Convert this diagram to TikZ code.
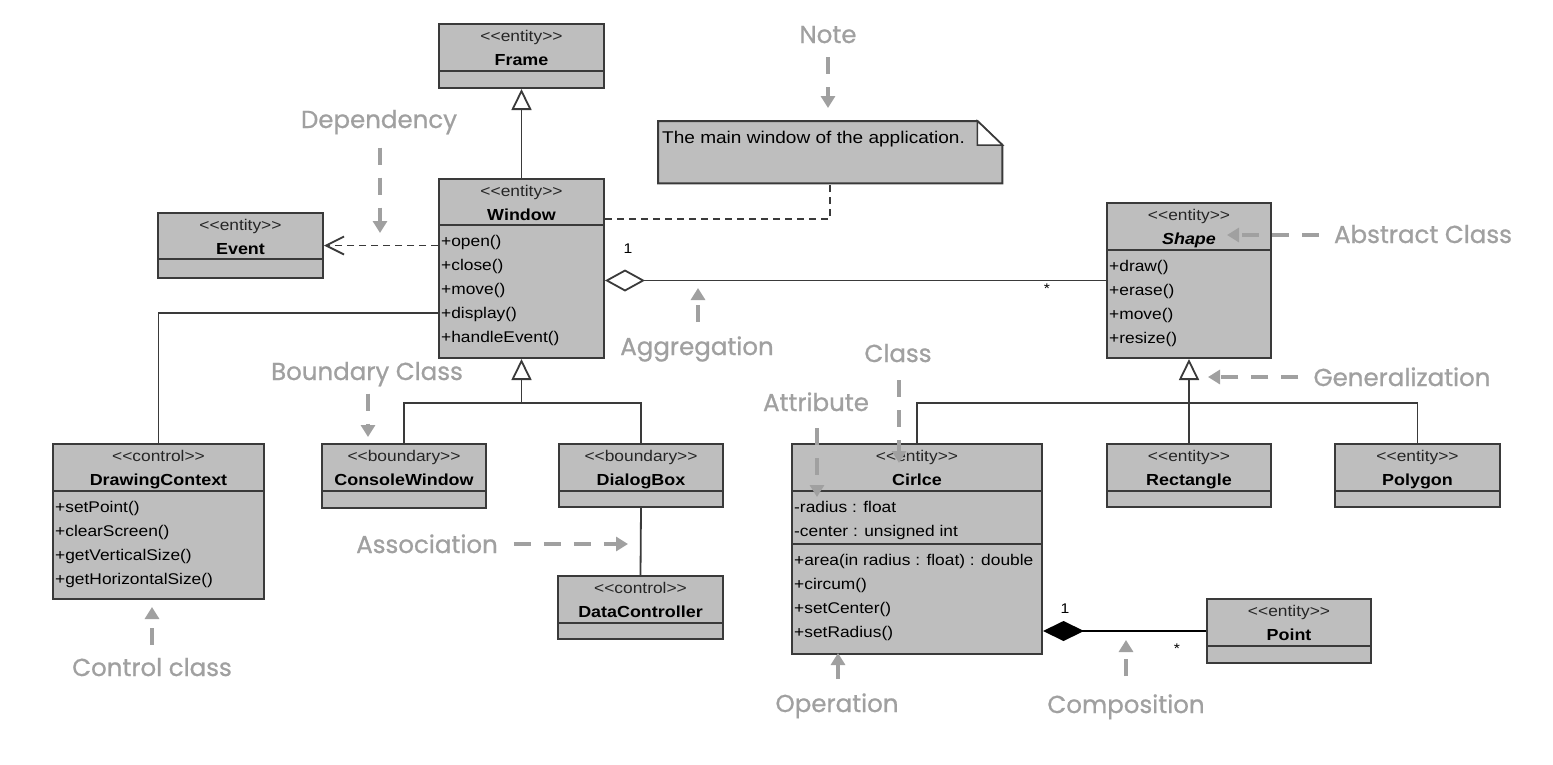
\documentclass[tikz,border=0pt]{standalone}
\usepackage{fontspec}
\newfontfamily\boxfont{Liberation Sans}[FakeStretch=1.12]
\newfontfamily\annfont{Poppins}[FakeBold=0.8]
\usetikzlibrary{arrows.meta,calc}
\definecolor{boxfill}{HTML}{BEBEBE}
\definecolor{boxline}{HTML}{3A3A3A}
\definecolor{anngray}{HTML}{A0A0A0}
\newcommand\classbox[6]{%
  \node[box, minimum width=#4-#2, minimum height=#5-#3] (#1) at (#2,#3) {};
  \draw[sepline] (#2,#6) -- (#4,#6);}
\newcommand\classhead[3]{%
  \node[stereo] at ($(#1.north)+(0,18)$) {#2};
  \node[cname] at ($(#1.north)+(0,42)$) {#3};}
\begin{document}
\begin{tikzpicture}[x=1pt,y=-1pt,
  box/.style={draw=boxline, fill=boxfill, line width=2pt, inner sep=0pt, anchor=north west},
  sepline/.style={draw=boxline, line width=2pt},
  stereo/.style={anchor=base, inner sep=0pt, font=\boxfont\fontsize{15.5}{18}\selectfont, text=black!85},
  cname/.style={anchor=base, inner sep=0pt, font=\boxfont\fontsize{16}{19}\selectfont\bfseries},
  member/.style={anchor=base west, inner sep=0pt, font=\boxfont\fontsize{15.5}{19}\selectfont},
  mult/.style={inner sep=0pt, font=\boxfont\fontsize{14}{16}\selectfont},
  conn/.style={draw=boxline, line width=1.8pt},
  gentip/.style={-{Triangle[length=21pt,width=20pt,fill=white]}},
  dashline/.style={dash pattern=on 7pt off 5pt},
  ann/.style={anchor=base, inner sep=0pt, text=anngray, font=\annfont\fontsize{24.5}{28}\selectfont},
  annarrow/.style={draw=anngray, line width=3.5pt, dash pattern=on 17pt off 13pt, -{Triangle[length=12pt,width=14pt]}}
]
\fill[white] (0,0) rectangle (1553,764);
\useasboundingbox (0,0) rectangle (1553,764);

% ---------- classes ----------
\classbox{frame}{438}{23}{603}{87}{71}
\classhead{frame}{<<entity>>}{Frame}

\classbox{window}{438}{178}{603}{357}{225}
\classhead{window}{<<entity>>}{Window}
\node[member] at (441,246) {+open()};
\node[member] at (441,270) {+close()};
\node[member] at (441,294) {+move()};
\node[member] at (441,318) {+display()};
\node[member] at (441,342) {+handleEvent()};

\classbox{event}{157}{212}{322}{277}{259}
\classhead{event}{<<entity>>}{Event}

\classbox{dc}{52}{443}{263}{598}{491}
\classhead{dc}{<<control>>}{DrawingContext}
\node[member] at (55,512) {+setPoint()};
\node[member] at (55,536) {+clearScreen()};
\node[member] at (55,560) {+getVerticalSize()};
\node[member] at (55,584) {+getHorizontalSize()};

\classbox{cw}{321}{443}{485}{507}{491}
\classhead{cw}{<<boundary>>}{ConsoleWindow}

\classbox{dlg}{558}{443}{722}{506}{491}
\classhead{dlg}{<<boundary>>}{DialogBox}

\classbox{dctl}{557}{575}{722}{638}{623}
\classhead{dctl}{<<control>>}{DataController}

\classbox{shape}{1106}{202}{1270}{357}{250}
\node[stereo] at ($(shape.north)+(0,18)$) {<<entity>>};
\node[cname, font=\boxfont\fontsize{16}{19}\selectfont\bfseries\itshape] at ($(shape.north)+(0,42)$) {Shape};
\node[member] at (1109,271) {+draw()};
\node[member] at (1109,295) {+erase()};
\node[member] at (1109,319) {+move()};
\node[member] at (1109,343) {+resize()};

\classbox{rect}{1106}{443}{1270}{506}{491}
\classhead{rect}{<<entity>>}{Rectangle}

\classbox{poly}{1334}{443}{1499}{506}{491}
\classhead{poly}{<<entity>>}{Polygon}

\classbox{circ}{791}{443}{1041}{653}{491}
\draw[sepline] (791,544) -- (1041,544);
\classhead{circ}{<<entity>>}{Cirlce}
\node[member] at (794,512) {-radius : float};
\node[member] at (794,536) {-center : unsigned int};
\node[member] at (794,565) {+area(in radius : float) : double};
\node[member] at (794,589) {+circum()};
\node[member] at (794,613) {+setCenter()};
\node[member] at (794,637) {+setRadius()};

\classbox{point}{1206}{598}{1370}{662}{646}
\classhead{point}{<<entity>>}{Point}

% ---------- note ----------
\node[inner sep=0pt, minimum width=344, minimum height=62, anchor=north west] (note) at (658,121) {};
\filldraw[fill=boxfill, draw=boxline, line width=2pt]
  (note.north west) -- ($(note.north east)+(-25,0)$) -- ($(note.north east)+(0,24)$)
  -- (note.south east) -- (note.south west) -- cycle;
\filldraw[fill=white, draw=boxline, line width=1.5pt]
  ($(note.north east)+(-25,0)$) -- ($(note.north east)+(-25,24)$) -- ($(note.north east)+(0,24)$) -- cycle;
\node[anchor=base west, inner sep=0pt, font=\boxfont\fontsize{17}{19}\selectfont] (notetext) at (662,143) {The main window of the application.};

% ---------- connectors ----------
\draw[conn, gentip] (window.north) -- (frame.south);
\draw[conn, dashline, -{Straight Barb[length=18pt,width=18pt]}] (window.west |- event.east) -- (event.east);
\draw[conn, dashline] (window.east |- 0,219) -| (note.south);
\draw[conn, {Diamond[length=40pt,width=22pt,fill=white]}-] (window.east |- shape.west) -- (shape.west);
\draw[conn] (window.west |- 0,313) -| (dc.north);
\draw[conn] (cw.north) |- (dlg.north |- 0,403) -- (dlg.north);
\draw[conn, gentip] (window.south |- 0,403) -- (window.south);
\draw[conn] (dlg.south) -- (dctl.north);
\draw[conn] (circ.north) |- (poly.north |- 0,403) -- (poly.north);
\draw[conn, gentip] (rect.north) -- (shape.south);
\draw[conn, line width=1.5pt, draw=black, {Diamond[length=41pt,width=20pt,fill=black]}-] (circ.east |- point.west) -- (point.west);

% multiplicities
\node[mult, anchor=base] (m1) at (628,253) {1};
\node[mult] (m2) at (1047,289) {*};
\node[mult, anchor=base] (m3) at (1065,613) {1};
\node[mult] (m4) at (1177,649) {*};

% ---------- annotations ----------
\node[ann] (deplab) at (379,128) {Dependency};
\node[ann] (notelab) at (828,43) {Note};
\node[ann] (abslab) at (1423,243) {Abstract Class};
\node[ann] (genlab) at (1402,386) {Generalization};
\node[ann] (agglab) at (697,355) {Aggregation};
\node[ann] (bndlab) at (367,380) {Boundary Class};
\node[ann] (clslab) at (898,362) {Class};
\node[ann] (attlab) at (816,411) {Attribute};
\node[ann] (asslab) at (427,553) {Association};
\node[ann] (ctllab) at (152,676) {Control class};
\node[ann] (oplab) at (837,712) {Operation};
\node[ann] (complab) at (1126,713) {Composition};

\coordinate (depT) at (380,233);
\coordinate (noteT) at (828,108);
\coordinate (absT) at (1227,235);
\coordinate (genT) at (1208,377);
\coordinate (aggT) at (698,288);
\coordinate (bndT) at (368,437);
\coordinate (clsT) at (899,463);
\coordinate (attT) at (817,497);
\coordinate (assT) at (628,544);
\coordinate (ctlT) at (152,607);
\coordinate (opT) at (838,653);
\coordinate (compT) at (1126,640);

\draw[annarrow, shorten <=13pt] (depT |- deplab.south) -- (depT);
\draw[annarrow, shorten <=14pt] (noteT |- notelab.south) -- (noteT);
\draw[annarrow, shorten <=15pt] (abslab.west |- absT) -- (absT);
\draw[annarrow, shorten <=15pt] (genlab.west |- genT) -- (genT);
\draw[annarrow, shorten <=14pt] (aggT |- agglab.north) -- (aggT);
\draw[annarrow, shorten <=7pt] (bndT |- bndlab.south) -- (bndT);
\draw[annarrow, shorten <=18pt] (clsT |- clslab.south) -- (clsT);
\draw[annarrow, shorten <=17pt] (attT |- attlab.south) -- (attT);
\draw[annarrow, shorten <=16pt] (asslab.east |- assT) -- (assT);
\draw[annarrow, shorten <=13pt] (ctlT |- ctllab.north) -- (ctlT);
\draw[annarrow, shorten <=14pt] (opT |- oplab.north) -- (opT);
\draw[annarrow, shorten <=18pt] (compT |- complab.north) -- (compT);
\end{tikzpicture}
\end{document}
